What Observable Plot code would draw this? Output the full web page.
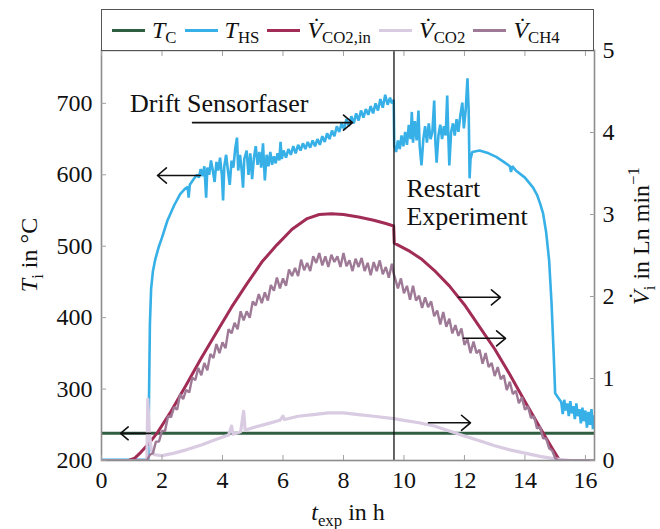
<!DOCTYPE html>
<html>
<head>
<meta charset="utf-8">
<script src="https://cdn.jsdelivr.net/npm/d3@7"></script>
<script src="https://cdn.jsdelivr.net/npm/@observablehq/plot@0.6"></script>
<style>
  html, body { margin: 0; padding: 0; background: #fff; }
  #wrap { position: relative; width: 660px; height: 529px; }
  #legend { position: absolute; left: 101px; top: 9px; width: 493px; height: 42px; box-sizing: border-box;
    border: 1.5px solid #555; background: #fff; display: flex; align-items: center; padding-left: 10px;
    font-family: 'Liberation Serif', serif; font-size: 24px; color: #111; }
  .item { display: flex; align-items: center; margin-right: 8px; white-space: nowrap; }
  .sw { width: 33px; height: 3px; margin-right: 7px; }
  .sub { font-size: 0.7em; position: relative; top: 0.3em; }
  i { font-style: italic; }
</style>
</head>
<body>
<div id="wrap"></div>
<script>
const FONT = "Liberation Serif, serif";

// ---- ticks ----
const xTicks = [0, 2, 4, 6, 8, 10, 12, 14, 16];
const tTicks = [200, 300, 400, 500, 600, 700];
const vTicks = [0, 1, 2, 3, 4, 5];
const T_MIN = 200, T_MAX = 774, V_MAX = 5;
const X_MAX = 16.3;
const RESTART = 9.67;

// ---- series: [t_exp (h), value] ----
const tC = [[0, 238], [16.3, 238]];

const tHS = [
 [0,201],[1.55,201],[1.57,285],[1.6,390],[1.64,440],[1.7,465],[1.78,482],[1.9,500],[2.0,512],[2.18,536],[2.4,557],[2.6,573],[2.75,580],[2.85,583],[2.88,568],[2.92,586],[3.05,594],[3.16,600],
 [3.22,596],[3.28,608],[3.34,598],[3.4,612],[3.46,568],[3.5,610],[3.56,600],[3.62,620],[3.68,606],[3.74,590],[3.8,618],[3.86,606],[3.92,624],[3.98,600],[4.02,564],[4.06,612],[4.12,628],[4.18,606],[4.24,586],[4.3,620],[4.36,610],[4.42,636],[4.48,652],[4.52,606],[4.58,628],[4.64,604],[4.68,582],[4.72,622],[4.8,634],[4.86,600],[4.92,630],[4.98,594],[5.04,624],[5.1,640],[5.16,614],[5.22,632],[5.28,610],[5.34,644],[5.4,592],[5.46,628],[5.52,612],[5.58,632],[5.64,614],[5.7,626],[5.76,616],[5.82,630],[5.88,620],[5.92,646],[5.96,622],[6.02,634],[6.1,624],[6.18,636],[6.26,628],[6.34,640],[6.42,630],[6.5,642],[6.58,634],[6.66,644],[6.74,636],[6.82,646],[6.9,638],[6.98,648],[7.06,640],[7.14,650],[7.22,642],[7.3,654],[7.38,646],[7.46,658],[7.54,650],[7.62,662],[7.7,654],[7.78,668],[7.86,660],[7.94,672],[8.02,664],[8.1,678],[8.18,668],[8.26,682],[8.34,672],[8.42,686],[8.5,676],[8.58,690],[8.66,680],[8.74,692],[8.82,684],[8.9,696],[8.98,686],[9.06,700],[9.14,690],[9.22,706],[9.3,694],[9.38,712],[9.46,698],[9.54,708],[9.6,700],[9.66,705],
 [9.68,640],[9.74,632],[9.8,648],[9.86,636],[9.92,655],[9.98,640],[10.04,660],[10.1,642],[10.16,670],[10.22,650],[10.26,688],[10.3,645],[10.36,675],[10.42,648],[10.48,690],[10.52,640],[10.58,613],[10.64,650],[10.7,668],[10.76,645],[10.82,672],[10.88,650],[10.94,660],[11.0,704],[11.04,645],[11.08,617],[11.14,655],[11.2,670],[11.26,650],[11.32,668],[11.38,655],[11.43,711],[11.47,650],[11.5,613],[11.56,660],[11.62,672],[11.68,655],[11.74,678],[11.8,660],[11.86,682],[11.93,701],[11.98,665],[12.04,690],[12.1,735],[12.14,690],[12.17,595],[12.2,622],[12.26,632],
 [12.5,634],[12.8,630],[13.05,625],[13.3,618],[13.5,612],[13.54,604],[13.58,612],[13.7,606],[14.0,596],[14.27,582],[14.4,572],[14.5,560],[14.6,546],[14.7,520],[14.8,480],[14.88,420],[14.95,350],[15.0,294],[15.1,288],[15.2,282],
 [15.25,265],[15.3,285],[15.35,270],[15.4,280],[15.45,262],[15.5,283],[15.55,266],[15.6,276],[15.65,258],[15.7,280],[15.75,262],[15.8,272],[15.85,252],[15.9,274],[15.95,255],[16.0,270],[16.05,246],[16.1,268],[16.15,250],[16.2,272],[16.25,244],[16.3,262]
];

const vCO2in = [
 [0,0],[0.9,0],[1.1,0.03],[1.3,0.1],[1.55,0.2],[1.85,0.34],[2.3,0.6],[2.8,0.92],[3.3,1.25],[3.8,1.56],[4.3,1.87],[4.8,2.15],[5.3,2.42],[5.8,2.63],[6.3,2.82],[6.8,2.95],[7.2,3.0],[7.6,3.01],[8.0,3.0],[8.5,2.97],[9.0,2.93],[9.4,2.89],[9.66,2.86],
 [9.68,2.65],[10.2,2.55],[10.6,2.45],[11.0,2.32],[11.5,2.13],[12.0,1.9],[12.5,1.63],[13.0,1.36],[13.5,1.05],[14.0,0.72],[14.5,0.4],[14.9,0.15],[15.15,0],[16.3,0]
];

const vCO2 = [
 [0,0],[1.5,0],[1.53,0.75],[1.58,0.35],[1.65,0.12],[1.75,0.07],[2.0,0.06],[2.4,0.09],[2.8,0.13],[3.3,0.19],[3.8,0.26],[4.2,0.31],[4.3,0.42],[4.35,0.32],[4.6,0.35],[4.7,0.6],[4.75,0.37],[5.0,0.4],[5.5,0.45],[5.9,0.49],[6.0,0.54],[6.05,0.5],[6.5,0.54],[7.0,0.56],[7.5,0.58],[8.0,0.58],[8.5,0.56],[9.0,0.54],[9.66,0.51],[10.0,0.49],[10.5,0.46],[11.0,0.42],[11.5,0.36],[12.0,0.3],[12.5,0.24],[13.0,0.18],[13.5,0.13],[14.0,0.09],[14.5,0.05],[15.0,0.02],[15.5,0],[16.3,0]
];

const vCH4 = [
 [0,0],[1.5,0],[1.6,0.07],[1.7,0.09],[1.8,0.23],[1.9,0.23],[2.0,0.36],[2.1,0.36],[2.2,0.54],[2.3,0.53],[2.4,0.65],[2.5,0.62],[2.6,0.81],[2.7,0.75],[2.8,0.86],[2.9,0.83],[3.0,1.01],[3.1,0.98],[3.2,1.13],[3.3,1.04],[3.4,1.19],[3.5,1.1],
 [3.6,1.3],[3.7,1.25],[3.8,1.42],[3.9,1.31],[4.0,1.44],[4.1,1.37],[4.2,1.6],[4.3,1.55],[4.4,1.68],[4.5,1.6],[4.6,1.82],[4.7,1.71],[4.8,1.82],[4.9,1.74],[5.0,1.94],[5.1,1.89],[5.2,2.03],[5.3,1.92],[5.4,2.05],[5.5,1.95],
 [5.6,2.14],[5.7,2.07],[5.8,2.23],[5.9,2.1],[6.0,2.22],[6.1,2.13],[6.2,2.33],[6.3,2.25],[6.4,2.35],[6.5,2.25],[6.6,2.45],[6.7,2.32],[6.8,2.41],[6.9,2.31],[7.0,2.49],[7.1,2.41],[7.2,2.53],[7.3,2.38],[7.4,2.49],[7.5,2.36],
 [7.6,2.51],[7.7,2.42],[7.8,2.49],[7.9,2.36],[8.0,2.53],[8.1,2.37],[8.2,2.44],[8.3,2.31],[8.4,2.46],[8.5,2.36],[8.6,2.47],[8.7,2.31],[8.8,2.41],[8.9,2.26],[9.0,2.42],[9.1,2.31],[9.2,2.44],[9.3,2.27],[9.4,2.36],[9.5,2.23],[9.6,2.4],[9.66,2.28],
 [9.7,2.23],[9.8,2.1],[9.9,2.22],[10.0,2.04],[10.1,2.13],[10.2,1.96],[10.3,2.13],[10.4,1.95],[10.5,2.01],[10.6,1.86],[10.7,1.99],[10.8,1.87],[10.9,1.94],[11.0,1.76],[11.1,1.83],[11.2,1.66],[11.3,1.81],[11.4,1.63],[11.5,1.73],[11.6,1.55],
 [11.7,1.65],[11.8,1.52],[11.9,1.61],[12.0,1.41],[12.1,1.48],[12.2,1.31],[12.3,1.45],[12.4,1.31],[12.5,1.35],[12.6,1.18],[12.7,1.31],[12.8,1.14],[12.9,1.19],[13.0,1.03],[13.1,1.14],[13.2,0.99],[13.3,1.04],[13.4,0.86],[13.5,0.96],[13.6,0.81],
 [13.7,0.85],[13.8,0.7],[13.9,0.77],[14.0,0.62],[14.1,0.66],[14.2,0.52],[14.3,0.54],[14.4,0.39],[14.5,0.41],[14.6,0.27],[14.7,0.27],[14.8,0.15],[14.9,0.12],[15.0,0.03],[15.1,0],[16.3,0]
];

// ---- annotations (data coordinates; T is the text baseline) ----
const texts = [
  {t: 0.96, T: 687.6, label: "Drift Sensorfaser"},
  {t: 10.1, T: 568.2, label: "Restart"},
  {t: 10.1, T: 529.0, label: "Experiment"}
];
// arrows on the temperature axis
const arrowsT = [
  {t1: 3.01, t2: 8.30, T: 673},
  {t1: 3.27, t2: 1.85, T: 599},
  {t1: 1.62, t2: 0.63, T: 238}
];
// arrows on the flow axis
const arrowsV = [
  {t1: 11.80, t2: 13.19, V: 1.99},
  {t1: 11.97, t2: 13.36, V: 1.49},
  {t1: 10.81, t2: 12.20, V: 0.46}
];

const colors = {tc: "#2f5e41", ths: "#36b0e6", co2in: "#a12d56", co2: "#d9cbe1", ch4: "#9e7a96"};

const v2t = v => T_MIN + v * (T_MAX - T_MIN) / V_MAX;
const t2v = T => (T - T_MIN) * V_MAX / (T_MAX - T_MIN);
const px = d => d[0];

const chart = Plot.plot({
  width: 660, height: 529,
  marginTop: 50, marginBottom: 69, marginLeft: 101, marginRight: 66,
  x: {domain: [0, X_MAX]},
  y: {domain: [T_MIN, T_MAX]},
  style: {fontFamily: FONT, fontSize: "24px", background: "white", color: "#111"},
  marks: [
    Plot.line(tC, {x: px, y: d => d[1], stroke: colors.tc, strokeWidth: 3, clip: true}),
    Plot.line(tHS, {x: px, y: d => d[1], stroke: colors.ths, strokeWidth: 2.6, clip: true, strokeLinejoin: "miter"}),
    Plot.line(vCO2in, {x: px, y: d => v2t(d[1]), stroke: colors.co2in, strokeWidth: 3, clip: true}),
    Plot.line(vCO2, {x: px, y: d => v2t(d[1]), stroke: colors.co2, strokeWidth: 3.2, clip: true}),
    Plot.line(vCH4, {x: px, y: d => v2t(d[1]), stroke: colors.ch4, strokeWidth: 2.4, clip: true, strokeLinejoin: "miter"}),
    Plot.ruleX([RESTART], {y1: T_MIN, y2: T_MAX, stroke: "#111", strokeWidth: 1.3}),
    Plot.arrow(arrowsT, {x1: "t1", x2: "t2", y1: "T", y2: "T", stroke: "#111", strokeWidth: 1.6, headLength: 11, headAngle: 80}),
    Plot.arrow(arrowsV, {x1: "t1", x2: "t2", y1: d => v2t(d.V), y2: d => v2t(d.V), stroke: "#111", strokeWidth: 1.6, headLength: 11, headAngle: 80}),
    Plot.frame({stroke: "#8c8c8c", strokeWidth: 1.6}),
    Plot.axisX({ticks: xTicks, anchor: "bottom", tickSize: 5, dy: -5, tickPadding: 10, stroke: "#a0a0a0", fill: "#111", label: null, tickFormat: d3.format("d")}),
    Plot.axisX({ticks: xTicks, anchor: "top", tickSize: 5, dy: 5, stroke: "#a0a0a0", label: null, tickFormat: () => ""}),
    Plot.axisY({ticks: tTicks, anchor: "left", tickSize: 5, dx: 5, tickPadding: 9, stroke: "#a0a0a0", fill: "#111", label: null, tickFormat: d3.format("d")}),
    Plot.axisY({ticks: vTicks.map(v2t), anchor: "right", tickSize: 5, dx: -5, tickPadding: 8, stroke: "#a0a0a0", fill: "#111", label: null, tickFormat: T => String(Math.round(t2v(T)))})
  ]
});

const svg = d3.select(chart);
svg.selectAll("text").style("font-family", FONT);

// ---- annotation texts placed through the chart's scales ----
const sx = chart.scale("x"), sy = chart.scale("y");
for (const d of texts) {
  svg.append("text")
    .attr("x", sx.apply(d.t)).attr("y", sy.apply(d.T))
    .attr("text-anchor", "start")
    .style("font-family", FONT).attr("font-size", 26).attr("fill", "#111")
    .text(d.label);
}

// ---- axis titles with sub/superscripts ----
function richText(parent, {x, y, rotate = 0, anchor = "middle", size = 24, parts}) {
  const t = parent.append("text")
    .attr("transform", `translate(${x},${y}) rotate(${rotate})`)
    .attr("text-anchor", anchor).style("font-family", FONT)
    .attr("font-size", size).attr("fill", "#111");
  let shift = 0;
  for (const p of parts) {
    const target = p.sub ? size * 0.25 : p.sup ? -size * 0.4 : 0;
    const ts = t.append("tspan").text(p.t).attr("dy", target - shift);
    shift = target;
    if (p.sub || p.sup) ts.attr("font-size", size * 0.7);
    if (p.it) ts.attr("font-style", "italic");
  }
}
richText(svg, {x: 37, y: 255, rotate: -90, parts: [{t: "T", it: true}, {t: "i", sub: true}, {t: " in °C"}]});
richText(svg, {x: 649, y: 236, rotate: -90, parts: [{t: "V\u0307", it: true}, {t: "i", sub: true}, {t: " in Ln min"}, {t: "\u22121", sup: true}]});
richText(svg, {x: 348, y: 520, parts: [{t: "t", it: true}, {t: "exp", sub: true}, {t: " in h"}]});

const wrap = document.getElementById("wrap");
wrap.appendChild(chart);

// ---- legend ----
const legendItems = [
  {key: "tc", main: "T", sub: "C"},
  {key: "ths", main: "T", sub: "HS"},
  {key: "co2in", main: "V\u0307", sub: "CO2,in"},
  {key: "co2", main: "V\u0307", sub: "CO2"},
  {key: "ch4", main: "V\u0307", sub: "CH4"}
];
const legend = d3.select(wrap).append("div").attr("id", "legend");
for (const it of legendItems) {
  const d = legend.append("div").attr("class", "item");
  d.append("div").attr("class", "sw").style("background", colors[it.key]);
  const lab = d.append("span");
  lab.append("i").text(it.main);
  lab.append("span").attr("class", "sub").text(it.sub);
}
</script>
</body>
</html>
